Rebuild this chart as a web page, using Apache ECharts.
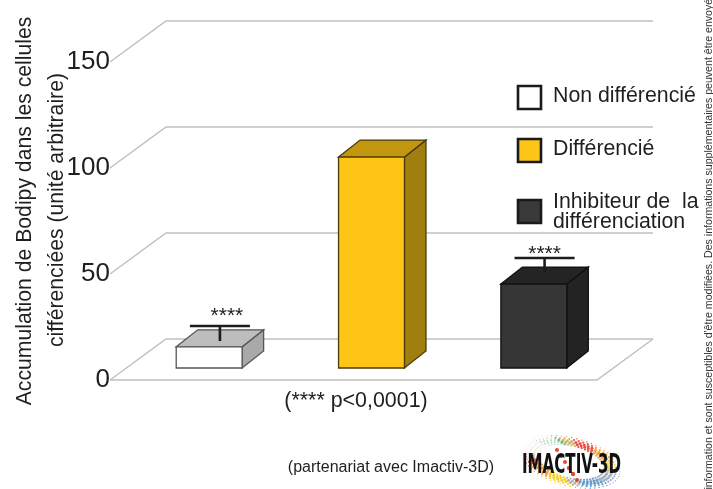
<!DOCTYPE html>
<html><head><meta charset="utf-8">
<style>html,body{margin:0;padding:0;background:#fff}#c{width:713px;height:489px}</style>
<script src="https://cdn.jsdelivr.net/npm/echarts@6/dist/echarts.min.js"></script>
</head><body><div id="c"></div>
<script>
const categories = ['Non différencié', 'Différencié', 'Inhibiteur de  la\ndifférenciation'];
const values = [10, 99.5, 39.6];
const errLow = [8.7, null, 40.8];
const errHigh = [15.8, null, 47.9];
const stars = ['****', '', '****'];
const yTicks = [0, 50, 100, 150];
const frontColors = ['#ffffff', '#fec517', '#363636'];
const topColors = ['#bdbdbd', '#c2960f', '#242424'];
const sideColors = ['#a9a9a9', '#a07e10', '#232323'];
const edgeColors = ['#555555', '#4a3a0c', '#111111'];
const FONT = '"Liberation Sans", Arial, sans-serif';

const chart = echarts.init(document.getElementById('c'), null, {renderer: 'canvas'});
const BACK = [56, -41], FRONT = [18, -12], DEPTH = [21.5, -17];
const LINE = '#c0c0c0';
const STAR_SHIFT = [7, 0, 0];
const STAR_LIFT = [1, 0, 7];

function renderFrame(params, api) {
  const v = api.value(0);
  const a = api.coord([0, v]);
  const area = params.coordSys;
  const x0 = area.x, x1 = area.x + area.width;
  const y = a[1];
  const kids = [{type: 'polyline', shape: {points: [[x0, y], [x0 + BACK[0], y + BACK[1]], [x1 + BACK[0], y + BACK[1]]]},
    style: {stroke: LINE, fill: null, lineWidth: 1.5}}];
  if (v === 0) kids.push({type: 'polyline', shape: {points: [[x0, y], [x1, y], [x1 + BACK[0], y + BACK[1]]]},
    style: {stroke: LINE, fill: null, lineWidth: 1.5}});
  return {type: 'group', children: kids};
}
function renderBar(params, api) {
  const i = api.value(0), val = api.value(1);
  const c = api.coord([i, val]), b = api.coord([i, 0]);
  const w = api.size([1, 0])[0] * 0.406;
  const l = c[0] + FRONT[0] - w / 2, r = l + w;
  const t = c[1] + FRONT[1], bo = b[1] + FRONT[1];
  const dx = DEPTH[0], dy = DEPTH[1];
  const st = {stroke: edgeColors[i], lineWidth: 1.3, lineJoin: 'miter'};
  return {type: 'group', children: [
    {type: 'polygon', shape: {points: [[r, t], [r + dx, t + dy], [r + dx, bo + dy], [r, bo]]}, style: {fill: sideColors[i], ...st}},
    {type: 'polygon', shape: {points: [[l, t], [l + dx, t + dy], [r + dx, t + dy], [r, t]]}, style: {fill: topColors[i], ...st}},
    {type: 'rect', shape: {x: l, y: t, width: w, height: bo - t}, style: {fill: frontColors[i], ...st}}
  ]};
}
function renderErr(params, api) {
  const i = api.value(0);
  const hi = api.coord([i, api.value(1)]), lo = api.coord([i, api.value(2)]);
  const cx = hi[0] + FRONT[0] + DEPTH[0] / 2;
  const dy = FRONT[1] + DEPTH[1] / 2;
  const yh = hi[1] + dy, yl = lo[1] + dy;
  const half = api.size([1, 0])[0] * 0.185;
  const s = {stroke: '#1c1c1c', lineWidth: 2.6};
  return {type: 'group', children: [
    {type: 'line', shape: {x1: cx - half, y1: yh, x2: cx + half, y2: yh}, style: s},
    {type: 'line', shape: {x1: cx, y1: yh, x2: cx, y2: yl}, style: s},
    {type: 'text', style: {x: cx + STAR_SHIFT[i], y: yh + STAR_LIFT[i], text: stars[i], align: 'center', verticalAlign: 'bottom',
      font: '21px ' + FONT, fill: '#222'}}
  ]};
}

// logo dots: a tilted ring plus the red band that crosses it
const logoDots = [];
function ringColor(deg) {
  const stops = [[0,'#8fa3b8'],[30,'#4f8cc8'],[62,'#a8a89c'],[80,'#f4c800'],[112,'#f08a1c'],[140,'#e2402a'],[170,'#d8d8c8'],[205,'#55b070'],[245,'#c8a850'],[262,'#e8322a'],[292,'#f2961e'],[322,'#f4d23c'],[345,'#bdbdb0'],[360,'#8fa3b8']];
  for (let k = stops.length - 1; k >= 0; k--) if (deg >= stops[k][0]) return stops[k][1];
  return '#999';
}
const TILT = 14 * Math.PI / 180;
[[1,0.7],[0.92,1.1],[0.84,1.5],[0.76,1.5],[0.68,1.1]].forEach(([rf, sz], ri) => {
  for (let d = 0; d < 360; d += 6) {
    const a = (d + ri * 3) * Math.PI / 180;
    const fade = (d > 150 && d < 240) ? 0.5 : 1;
    const ex = 50 * rf * Math.cos(a), ey = 24 * rf * Math.sin(a);
    const px = 571 + ex * Math.cos(TILT) - ey * Math.sin(TILT);
    const py = 462 + ex * Math.sin(TILT) + ey * Math.cos(TILT);
    logoDots.push({type: 'circle', shape: {cx: px, cy: py, r: sz * (fade < 1 ? 0.7 : 1)}, style: {fill: ringColor(d), opacity: 0.85 * fade}, silent: true, z: 5});
  }
});
[[557,450,2],[561,456,2.2],[565,462,2],[569,468,2.2],[573,474,2.2],[577,480,2]].forEach(([cx, cy, r]) => {
  logoDots.push({type: 'circle', shape: {cx, cy, r}, style: {fill: '#e2351f', opacity: 0.9}, silent: true, z: 6});
});

function rotText(text, x, y, size, align, fill) {
  return {type: 'text', x, y, rotation: Math.PI / 2, z: 10,
    style: {text, font: size + 'px ' + FONT, align: align || 'center', verticalAlign: 'middle', fill: fill || '#1f1f1f'}};
}
function hText(text, x, y, size, align) {
  return {type: 'text', x, y, z: 10, style: {text, font: size + 'px ' + FONT, align: align || 'left', verticalAlign: 'middle', fill: '#1f1f1f'}};
}
const legendBoxY = [97.5, 150.5, 211.5];
const legendGraphics = [];
categories.forEach((n, i) => {
  legendGraphics.push({type: 'rect', z: 10, shape: {x: 518, y: legendBoxY[i] - 11.5, width: 23, height: 23},
    style: {fill: i === 2 ? '#3a3a3a' : frontColors[i], stroke: '#1a1a1a', lineWidth: 2.6}});
});

chart.setOption({
  animation: false,
  backgroundColor: '#fff',
  grid: {left: 110, width: 487, top: 62, height: 318, containLabel: false},
  xAxis: {type: 'category', data: categories, show: false, boundaryGap: true},
  yAxis: {type: 'value', min: 0, max: 150, interval: 50,
    axisLine: {show: false}, axisTick: {show: false}, splitLine: {show: false},
    axisLabel: {margin: 0, fontSize: 26, fontFamily: FONT, color: '#1f1f1f', padding: [0, 0, 3, 0]}},
  graphic: [
    rotText('Accumulation de Bodipy dans les cellules', 25, 211, 21.2),
    rotText('cifférenciées (unité arbitraire)', 57, 210, 21.2),
    rotText("l'information et sont susceptibles d'être modifiées. Des informations supplémentaires peuvent être envoyées", 709, 494, 10.6, 'left', '#333'),
    ...legendGraphics,
    hText('Non différencié', 553, 96, 21.3),
    hText('Différencié', 553, 149, 21.3),
    hText('Inhibiteur de  la', 553, 202, 21.3),
    hText('différenciation', 553, 222, 21.3),
    hText('(**** p<0,0001)', 356, 401, 21.4, 'center'),
    hText('(partenariat avec Imactiv-3D)', 391, 468, 16, 'center'),
    ...logoDots,
    {type: 'text', x: 522, y: 466, scaleX: 0.58, z: 11,
      style: {text: 'IMACTIV-3D', font: 'bold 26px "DejaVu Sans", sans-serif', verticalAlign: 'middle', fill: '#111'}}
  ],
  series: [
    {type: 'custom', name: 'frame', data: yTicks.map(t => [t]), encode: {y: 0}, renderItem: renderFrame, clip: false, z: 1, silent: true},
    {type: 'custom', name: 'bars', data: values.map((v, i) => [i, v]), encode: {x: 0, y: 1}, renderItem: renderBar, clip: false, z: 2},
    {type: 'custom', name: 'err', data: values.map((v, i) => [i, errHigh[i], errLow[i]]).filter(d => d[1] !== null),
      encode: {x: 0, y: [1, 2]}, renderItem: renderErr, clip: false, z: 3}
  ]
});
</script></body></html>
